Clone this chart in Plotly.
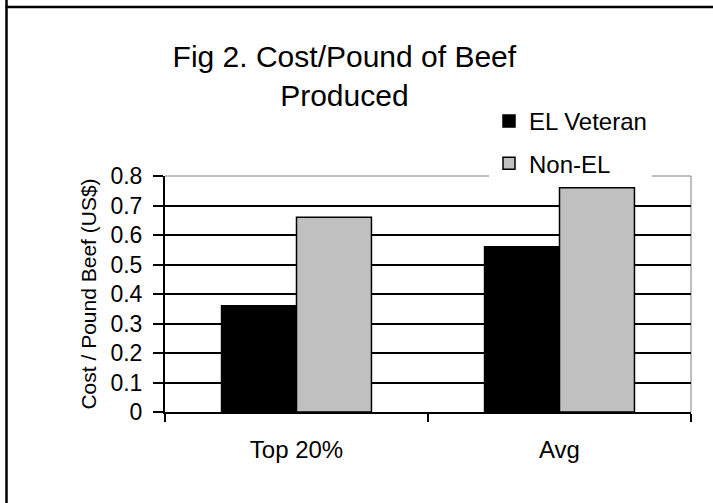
import plotly.graph_objects as go

# Chart data
categories = ["Top 20%", "Avg"]
el_veteran = [0.36, 0.56]
non_el = [0.66, 0.76]
y_ticks = [0, 0.1, 0.2, 0.3, 0.4, 0.5, 0.6, 0.7, 0.8]
y_tick_labels = ["0", "0.1", "0.2", "0.3", "0.4", "0.5", "0.6", "0.7", "0.8"]

W, H = 713, 503
M_L, M_R, M_T, M_B = 165, 22, 176, 91
PW, PH = W - M_L - M_R, H - M_T - M_B


def px_x(px):
    """Convert a pixel column of the page to x paper coordinates."""
    return (px - M_L) / PW


def px_y(py):
    """Convert a pixel row of the page to y paper coordinates."""
    return (H - M_B - py) / PH


FONT = "Liberation Sans, Arial, Helvetica, sans-serif"

fig = go.Figure()
fig.add_trace(go.Bar(
    name="EL Veteran", x=categories, y=el_veteran, legendgroup="a",
    marker=dict(color="#000000", line=dict(color="#000000", width=1.5)),
))
fig.add_trace(go.Bar(
    name="Non-EL", x=categories, y=non_el, legendgroup="b",
    marker=dict(color="#C0C0C0", line=dict(color="#000000", width=1.5)),
))

shapes = [
    # thin grey plot-area border on top and right
    dict(type="path", xref="paper", yref="paper",
         path="M 0,1 L 1,1 L 1,0", line=dict(color="#808080", width=1),
         layer="below"),
    # outer frame: top rule and left rule
    dict(type="line", xref="paper", yref="paper",
         x0=px_x(5.5), x1=px_x(W), y0=px_y(7), y1=px_y(7),
         line=dict(color="#000000", width=2.5)),
    dict(type="line", xref="paper", yref="paper",
         x0=px_x(6.5), x1=px_x(6.5), y0=px_y(0), y1=px_y(H),
         line=dict(color="#000000", width=2.5)),
]

fig.update_layout(
    width=W, height=H,
    margin=dict(l=M_L, r=M_R, t=M_T, b=M_B, pad=0),
    paper_bgcolor="white", plot_bgcolor="white",
    font=dict(family=FONT, color="#000000"),
    barmode="group", bargap=0.43, bargroupgap=0,
    title=dict(
        text="Fig 2. Cost/Pound of Beef<br>Produced",
        font=dict(size=30, family=FONT, color="#000000"),
        x=0.483, xref="container", xanchor="center",
        y=1 - 67 / H, yref="container", yanchor="top",
    ),
    legend=dict(
        x=px_x(489), y=px_y(99), xanchor="left", yanchor="top",
        bgcolor="white", borderwidth=0,
        font=dict(size=24, family=FONT, color="#000000"),
        traceorder="grouped", tracegroupgap=8,
        entrywidth=150, entrywidthmode="pixels",
    ),
    shapes=shapes,
    xaxis=dict(
        showline=True, linecolor="#000000", linewidth=2,
        ticks="outside", tickson="boundaries", ticklen=8, tickwidth=2,
        tickcolor="#000000", showgrid=False,
        tickfont=dict(size=24, family=FONT, color="#000000"),
        ticklabelstandoff=15,
    ),
    yaxis=dict(
        range=[0, 0.8], tickmode="array", tickvals=y_ticks,
        ticktext=y_tick_labels,
        showline=True, linecolor="#000000", linewidth=2,
        ticks="outside", ticklen=10, tickwidth=2, tickcolor="#000000",
        showgrid=False, zeroline=False,
        minor=dict(tickmode="array", tickvals=y_ticks[1:-1], ticks="",
                   showgrid=True, gridcolor="#000000", gridwidth=2),
        tickfont=dict(size=23, family=FONT, color="#000000"),
        ticklabelstandoff=6,
        title=dict(text="Cost / Pound Beef (US$)",
                   font=dict(size=21, family=FONT, color="#000000"),
                   standoff=8),
    ),
)

fig.write_html("out.html")
